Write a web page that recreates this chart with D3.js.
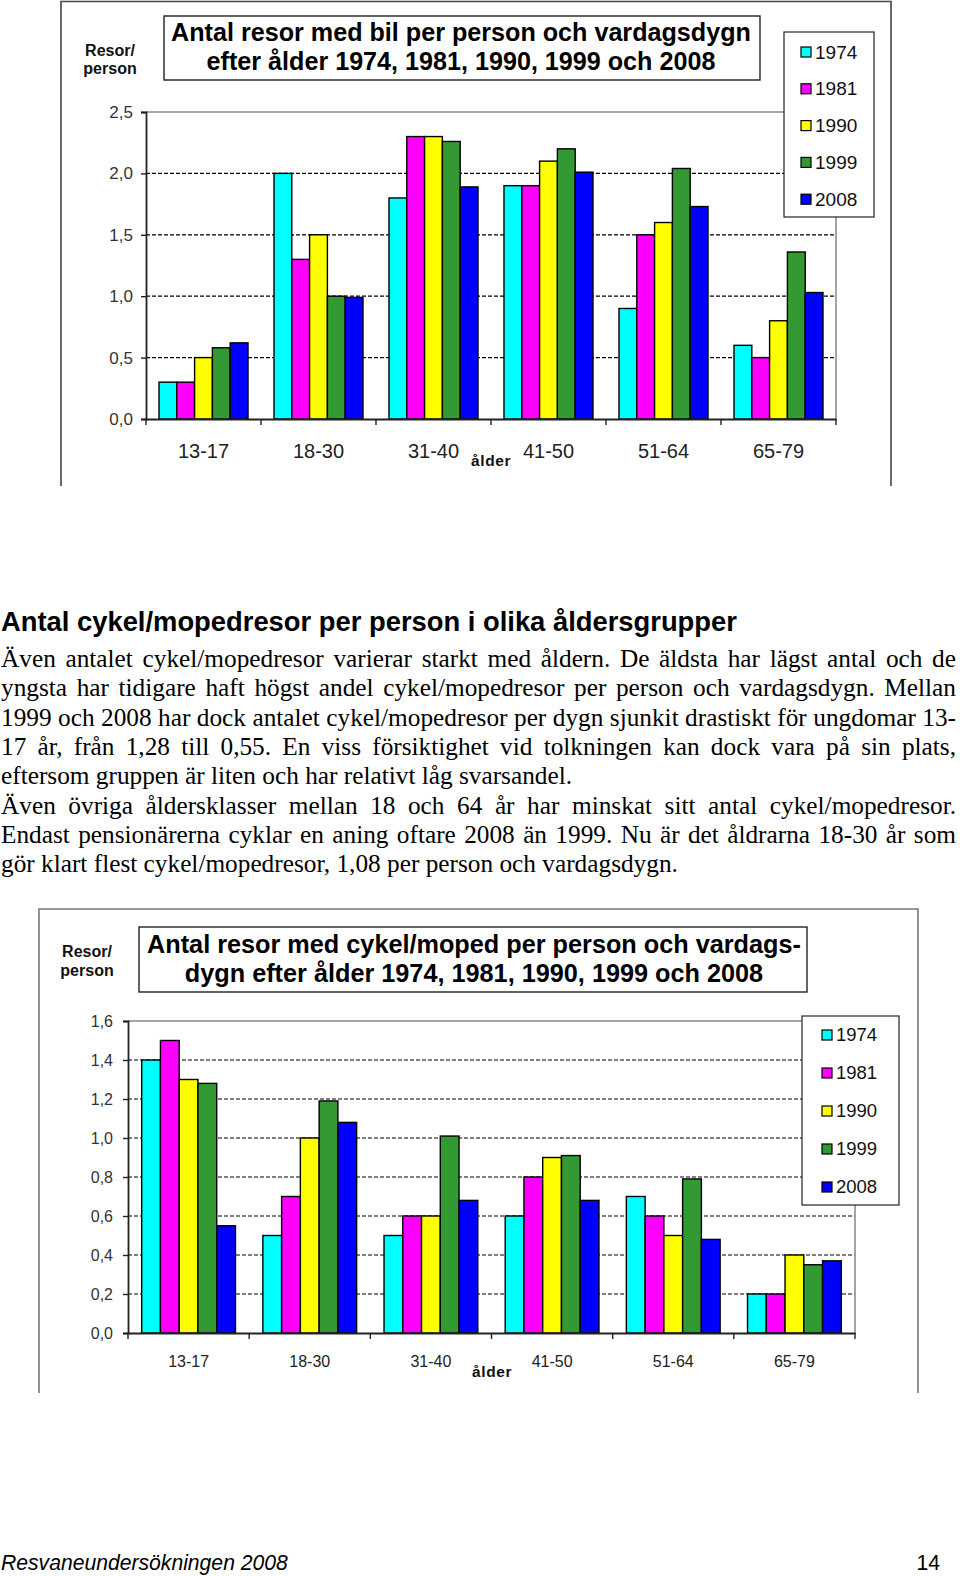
<!DOCTYPE html>
<html>
<head>
<meta charset="utf-8">
<script src="https://cdn.jsdelivr.net/npm/d3@7"></script>
<style>
  html, body { margin: 0; padding: 0; background: #fff; }
  svg { display: block; }
</style>
</head>
<body>
<svg id="page" width="960" height="1576"></svg>
<script>
// ---------------- DATA ----------------
const categories = ["13-17", "18-30", "31-40", "41-50", "51-64", "65-79"];
const years = ["1974", "1981", "1990", "1999", "2008"];
const colors = ["#00FFFF", "#FF00FF", "#FFFF00", "#339933", "#0000FF"];

// Chart 1: bil (car) trips per person and weekday
const bil1974 = [0.30, 2.00, 1.80, 1.90, 0.90, 0.60];
const bil1981 = [0.30, 1.30, 2.30, 1.90, 1.50, 0.50];
const bil1990 = [0.50, 1.50, 2.30, 2.10, 1.60, 0.80];
const bil1999 = [0.58, 1.00, 2.26, 2.20, 2.04, 1.36];
const bil2008 = [0.62, 0.99, 1.89, 2.01, 1.73, 1.03];
const bilTicks = [0, 0.5, 1.0, 1.5, 2.0, 2.5];

// Chart 2: cykel/moped trips per person and weekday
const cyk1974 = [1.40, 0.50, 0.50, 0.60, 0.70, 0.20];
const cyk1981 = [1.50, 0.70, 0.60, 0.80, 0.60, 0.20];
const cyk1990 = [1.30, 1.00, 0.60, 0.90, 0.50, 0.40];
const cyk1999 = [1.28, 1.19, 1.01, 0.91, 0.79, 0.35];
const cyk2008 = [0.55, 1.08, 0.68, 0.68, 0.48, 0.37];
const cykTicks = [0, 0.2, 0.4, 0.6, 0.8, 1.0, 1.2, 1.4, 1.6];

const title1 = ["Antal resor med bil per person och vardagsdygn",
                "efter ålder 1974, 1981, 1990, 1999 och 2008"];
const title2 = ["Antal resor med cykel/moped per person och vardags-",
                "dygn efter ålder 1974, 1981, 1990, 1999 och 2008"];
const yAxisLabel = ["Resor/", "person"];
const xAxisLabel = "ålder";

const heading = "Antal cykel/mopedresor per person i olika åldersgrupper";
const bodyLines = [
  ["Även antalet cykel/mopedresor varierar starkt med åldern. De äldsta har lägst antal och de", true],
  ["yngsta har tidigare haft högst andel cykel/mopedresor per person och vardagsdygn. Mellan", true],
  ["1999 och 2008 har dock antalet cykel/mopedresor per dygn sjunkit drastiskt för ungdomar 13-", true],
  ["17 år, från 1,28 till 0,55. En viss försiktighet vid tolkningen kan dock vara på sin plats,", true],
  ["eftersom gruppen är liten och har relativt låg svarsandel.", false],
  ["Även övriga åldersklasser mellan 18 och 64 år har minskat sitt antal cykel/mopedresor.", true],
  ["Endast pensionärerna cyklar en aning oftare 2008 än 1999. Nu är det åldrarna 18-30 år som", true],
  ["gör klart flest cykel/mopedresor, 1,08 per person och vardagsdygn.", false]
];
const footerLeft = "Resvaneundersökningen 2008";
const footerRight = "14";

// ---------------- HELPERS ----------------
const svg = d3.select("#page");
const SANS = "'Liberation Sans', Arial, sans-serif";
const SERIF = "'Liberation Serif', 'Times New Roman', serif";

function measure(text, family, weight, style, size) {
  const t = svg.append("text").attr("font-family", family).attr("font-weight", weight)
    .attr("font-style", style || "normal").attr("font-size", size).text(text);
  const w = t.node().getComputedTextLength();
  t.remove();
  return w;
}
function fitSize(text, family, weight, style, width) {
  return 100 * width / measure(text, family, weight, style, 100);
}
const fmt = d => d3.format(".1f")(d).replace(".", ",");

function drawChart(cfg) {
  const g = svg.append("g");
  // outer frame (open at bottom, cropped in the source)
  g.append("path")
    .attr("d", `M${cfg.frame.x0},${cfg.frame.y1} V${cfg.frame.y0} H${cfg.frame.x1} V${cfg.frame.y1}`)
    .attr("fill", "none").attr("stroke", cfg.frameColor).attr("stroke-width", 1.6);

  const x = d3.scaleBand().domain(categories).range([cfg.plot.x0, cfg.plot.x1])
    .paddingInner(0.226).paddingOuter(0.113);
  const xi = d3.scaleBand().domain(years).range([0, x.bandwidth()]);
  const y = d3.scaleLinear().domain([0, cfg.ticks[cfg.ticks.length - 1]]).range([cfg.plot.y1, cfg.plot.y0]);

  // grid lines
  g.selectAll(".grid").data(cfg.ticks.slice(1, -1)).join("line")
    .attr("x1", cfg.plot.x0).attr("x2", cfg.plot.x1)
    .attr("y1", d => y(d)).attr("y2", d => y(d))
    .attr("stroke", "#000").attr("stroke-width", 1.2).attr("stroke-dasharray", "4,2");
  // plot area top + right border (gray)
  g.append("path")
    .attr("d", `M${cfg.plot.x0},${y(cfg.ticks[cfg.ticks.length - 1])} H${cfg.plot.x1} V${cfg.plot.y1}`)
    .attr("fill", "none").attr("stroke", "#888").attr("stroke-width", 1.5);

  // bars
  const series = cfg.series.map((vals, si) => ({ year: years[si], color: colors[si], vals }));
  const groups = g.selectAll(".grp").data(categories).join("g")
    .attr("transform", c => `translate(${x(c)},0)`);
  groups.selectAll("rect").data((c, ci) => series.map(s => ({ year: s.year, color: s.color, v: s.vals[ci] })))
    .join("rect")
    .attr("x", d => xi(d.year)).attr("width", xi.bandwidth())
    .attr("y", d => y(d.v)).attr("height", d => y(0) - y(d.v))
    .attr("fill", d => d.color).attr("stroke", "#000").attr("stroke-width", 1.4);

  // y axis
  const ya = g.append("g").attr("transform", `translate(${cfg.plot.x0},0)`)
    .call(d3.axisLeft(y).tickValues(cfg.ticks).tickSize(5).tickPadding(cfg.yPad).tickFormat(fmt));
  ya.select(".domain").attr("stroke", "#222").attr("stroke-width", 1.8);
  ya.selectAll(".tick line").attr("stroke", "#222").attr("stroke-width", 1.4);
  ya.selectAll(".tick text").attr("font-family", SANS).attr("font-size", cfg.yFont).attr("fill", "#333");

  // x axis: line, boundary ticks, labels
  const xa = g.append("g").attr("transform", `translate(0,${cfg.plot.y1})`)
    .call(d3.axisBottom(x).tickSize(0).tickPadding(cfg.xPad));
  xa.select(".domain").attr("stroke", "#222").attr("stroke-width", 1.8);
  xa.selectAll(".tick text").attr("font-family", SANS).attr("font-size", cfg.xFont).attr("fill", "#222");
  const bounds = d3.range(categories.length + 1).map(i => cfg.plot.x0 + i * x.step());
  xa.selectAll(".bt").data(bounds).join("line")
    .attr("x1", d => d).attr("x2", d => d).attr("y1", 0).attr("y2", 6)
    .attr("stroke", "#222").attr("stroke-width", 1.4);

  // axis titles
  g.selectAll(".yl").data(yAxisLabel).join("text")
    .attr("x", cfg.yLabel.x).attr("y", (d, i) => cfg.yLabel.y + i * cfg.yLabel.dy)
    .attr("text-anchor", "middle").attr("font-family", SANS).attr("font-weight", "bold")
    .attr("font-size", cfg.yLabel.size).attr("fill", "#111").text(d => d);
  g.append("text").attr("x", cfg.xLabel.x).attr("y", cfg.xLabel.y)
    .attr("font-family", SANS).attr("font-weight", "bold").attr("font-size", cfg.xLabel.size)
    .attr("letter-spacing", 0.6).attr("fill", "#111").text(xAxisLabel);

  // title box
  g.append("rect").attr("x", cfg.tbox.x0).attr("y", cfg.tbox.y0)
    .attr("width", cfg.tbox.x1 - cfg.tbox.x0).attr("height", cfg.tbox.y1 - cfg.tbox.y0)
    .attr("fill", "#fff").attr("stroke", "#222").attr("stroke-width", 1.4);
  const tSize = fitSize(cfg.title[0], SANS, "bold", "normal", cfg.tWidth);
  g.selectAll(".tt").data(cfg.title).join("text")
    .attr("x", (cfg.tbox.x0 + cfg.tbox.x1) / 2 + cfg.tShift).attr("y", (d, i) => cfg.tBase[i])
    .attr("text-anchor", "middle").attr("font-family", SANS).attr("font-weight", "bold")
    .attr("font-size", tSize).attr("fill", "#000").text(d => d);

  // legend
  const L = cfg.legend;
  g.append("rect").attr("x", L.x0).attr("y", L.y0).attr("width", L.x1 - L.x0).attr("height", L.y1 - L.y0)
    .attr("fill", "#fff").attr("stroke", "#222").attr("stroke-width", 1.2);
  const li = g.selectAll(".li").data(series).join("g")
    .attr("transform", (d, i) => `translate(${L.sx},${L.cy0 + i * L.dy})`);
  li.append("rect").attr("x", 0).attr("y", -5).attr("width", 10).attr("height", 10)
    .attr("fill", d => d.color).attr("stroke", "#000").attr("stroke-width", 1.2);
  li.append("text").attr("x", L.tx).attr("y", 0).attr("dy", "0.35em")
    .attr("font-family", SANS).attr("font-size", L.size).attr("fill", "#111").text(d => d.year);
}

// ---------------- CHART 1 ----------------
drawChart({
  series: [bil1974, bil1981, bil1990, bil1999, bil2008],
  ticks: bilTicks,
  frame: { x0: 61, x1: 891, y0: 1.5, y1: 486 }, frameColor: "#444",
  plot: { x0: 146, x1: 836, y0: 112, y1: 419 },
  yFont: 17, yPad: 8, xFont: 20, xPad: 25,
  yLabel: { x: 110, y: 56, dy: 18, size: 16 },
  xLabel: { x: 471, y: 466, size: 15.5 },
  tbox: { x0: 164, x1: 760, y0: 16, y1: 80 }, title: title1, tWidth: 580, tShift: -1, tBase: [41, 70],
  legend: { x0: 784, x1: 874, y0: 32, y1: 217, sx: 801, cy0: 52, dy: 36.8, tx: 14, size: 19 }
});

// ---------------- CHART 2 ----------------
drawChart({
  series: [cyk1974, cyk1981, cyk1990, cyk1999, cyk2008],
  ticks: cykTicks,
  frame: { x0: 39, x1: 918, y0: 909, y1: 1393 }, frameColor: "#777",
  plot: { x0: 128, x1: 855, y0: 1021, y1: 1333 },
  yFont: 16, yPad: 10, xFont: 16, xPad: 23,
  yLabel: { x: 87, y: 957, dy: 19, size: 16 },
  xLabel: { x: 472, y: 1377, size: 15.5 },
  tbox: { x0: 139, x1: 807, y0: 927, y1: 992 }, title: title2, tWidth: 654, tShift: 1, tBase: [953, 982],
  legend: { x0: 802, x1: 899, y0: 1016, y1: 1205, sx: 822, cy0: 1035, dy: 38, tx: 14, size: 18.5 }
});

// ---------------- TEXT SECTION ----------------
const hSize = fitSize(heading, SANS, "bold", "normal", 736);
svg.append("text").attr("x", 1).attr("y", 631).attr("font-family", SANS).attr("font-weight", "bold")
  .attr("font-size", hSize).attr("fill", "#000").text(heading);

const bSize = fitSize(bodyLines[7][0], SERIF, "normal", "normal", 677);
const bodyWidth = 955, baseY = 667, lineH = 29.3;
bodyLines.forEach(([line, just], li) => {
  const yb = baseY + li * lineH;
  if (!just) {
    svg.append("text").attr("x", 1).attr("y", yb).attr("font-family", SERIF)
      .attr("font-size", bSize).attr("fill", "#000").text(line);
    return;
  }
  const words = line.split(" ");
  const widths = words.map(w => measure(w, SERIF, "normal", "normal", bSize));
  const gap = (bodyWidth - d3.sum(widths)) / (words.length - 1);
  let xPos = 1;
  const tEl = svg.append("text").attr("y", yb).attr("font-family", SERIF)
    .attr("font-size", bSize).attr("fill", "#000");
  words.forEach((w, i) => {
    tEl.append("tspan").attr("x", xPos).text(w);
    xPos += widths[i] + gap;
  });
});

// ---------------- FOOTER ----------------
const fSize = fitSize(footerLeft, SANS, "normal", "italic", 287);
svg.append("text").attr("x", 1).attr("y", 1570).attr("font-family", SANS).attr("font-style", "italic")
  .attr("font-size", fSize).attr("fill", "#000").text(footerLeft);
svg.append("text").attr("x", 940).attr("y", 1570).attr("text-anchor", "end").attr("font-family", SANS)
  .attr("font-size", fSize).attr("fill", "#000").text(footerRight);
</script>
</body>
</html>
